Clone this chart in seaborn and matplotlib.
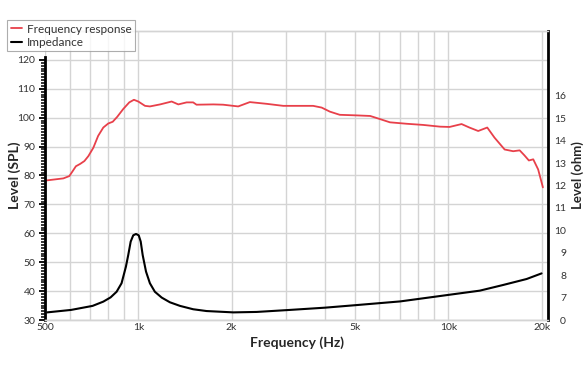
import numpy as np
import pandas as pd
import matplotlib
matplotlib.use("Agg")
import matplotlib.pyplot as plt
from matplotlib.ticker import FixedLocator, FixedFormatter, NullFormatter
from matplotlib.lines import Line2D
import seaborn as sns

# ---- data ----
spl_freq = [506, 573, 599, 614, 629, 649, 670, 690, 716, 742, 771, 800, 827, 855, 894,
            935, 968, 1000, 1051, 1090, 1176, 1281, 1346, 1432, 1503, 1541, 1747, 1878,
            2100, 2290, 2595, 2935, 3665, 3905, 4150, 4467, 5063, 5600, 6030, 6486, 7345,
            8300, 9410, 10100, 11040, 11700, 12490, 13360, 14100, 15200, 16200, 17000,
            17600, 18200, 18800, 19500, 20200]
spl_db = [78.3, 79.0, 79.8, 81.5, 83.2, 84.0, 85.0, 86.7, 89.6, 93.7, 96.6, 98.0, 98.6,
          100.3, 103.0, 105.3, 106.2, 105.6, 104.1, 103.9, 104.6, 105.6, 104.6, 105.3,
          105.3, 104.5, 104.6, 104.5, 103.9, 105.4, 104.8, 104.1, 104.1, 103.5, 102.1,
          101.0, 100.8, 100.6, 99.5, 98.4, 97.9, 97.5, 96.9, 96.8, 97.8, 96.6, 95.4, 96.6,
          93.1, 89.0, 88.4, 88.7, 87.0, 85.2, 85.6, 82.1, 75.9]

imp_freq = [508, 607, 712, 771, 814, 851, 883, 912, 928, 945, 963, 983, 1003, 1018, 1033,
            1059, 1090, 1131, 1190, 1265, 1363, 1503, 1660, 2025, 2410, 3085, 4000, 5000,
            7000, 10000, 12640, 15000, 17900, 20000]
imp_ohm = [6.34, 6.45, 6.63, 6.82, 7.01, 7.26, 7.64, 8.38, 8.90, 9.50, 9.78, 9.84, 9.78,
           9.50, 8.90, 8.16, 7.64, 7.26, 7.00, 6.79, 6.63, 6.48, 6.40, 6.34, 6.36, 6.45,
           6.55, 6.66, 6.83, 7.12, 7.31, 7.56, 7.83, 8.08]

x_ticks = [500, 1000, 2000, 5000, 10000, 20000]
x_labels = ["500", "1k", "2k", "5k", "10k", "20k"]
x_minor = [600, 700, 800, 900, 3000, 4000, 6000, 7000, 8000, 9000]
spl_ticks = [30, 40, 50, 60, 70, 80, 90, 100, 110, 120]
ohm_ticks = [6, 7, 8, 9, 10, 11, 12, 13, 14, 15, 16]
ohm_labels = ["0", "7", "8", "9", "10", "11", "12", "13", "14", "15", "16"]

spl_df = pd.DataFrame({"Frequency": spl_freq, "Level": spl_db})
imp_df = pd.DataFrame({"Frequency": imp_freq, "Ohm": imp_ohm})

sns.set_style("white")
plt.rcParams["font.family"] = ["Lato", "DejaVu Sans"]

RED = "#e8404a"
GRID = "#d4d4d4"
TXT = "#333333"

fig = plt.figure(figsize=(5.88, 3.72), dpi=100)
ax = fig.add_axes([45 / 588, 1 - 320 / 372, (548 - 45) / 588, (320 - 31) / 372])
ax2 = ax.twinx()

sns.lineplot(data=spl_df, x="Frequency", y="Level", ax=ax, color=RED, lw=1.3)
sns.lineplot(data=imp_df, x="Frequency", y="Ohm", ax=ax2, color="black", lw=1.5)

ax.set_xscale("log")
ax.set_xlim(500, 20980)
ax.set_ylim(30, 130)
ax2.set_ylim(6, 18.9)

ax.xaxis.set_major_locator(FixedLocator(x_ticks))
ax.xaxis.set_major_formatter(FixedFormatter(x_labels))
ax.xaxis.set_minor_locator(FixedLocator(x_minor))
ax.xaxis.set_minor_formatter(NullFormatter())
ax.yaxis.set_major_locator(FixedLocator(spl_ticks))
ax.yaxis.set_minor_locator(FixedLocator(list(range(30, 121))))

ax.grid(True, which="both", axis="x", color=GRID, lw=1.0)
ax.grid(True, which="major", axis="y", color=GRID, lw=1.0)
ax.set_axisbelow(True)
ax2.grid(False)

ax.tick_params(axis="x", which="both", length=0, labelsize=7.5, labelcolor=TXT, pad=2)
ax.tick_params(axis="y", which="major", length=4, width=1.3, color="black",
               labelsize=7.5, labelcolor=TXT, pad=3, direction="out")
ax.tick_params(axis="y", which="minor", length=3, width=1.1, color="black", direction="out")

ax2.yaxis.set_major_locator(FixedLocator(ohm_ticks))
ax2.yaxis.set_major_formatter(FixedFormatter(ohm_labels))
ax2.tick_params(axis="y", length=0, labelsize=7.5, labelcolor=TXT, pad=13)
for lbl in ax2.get_yticklabels():
    lbl.set_horizontalalignment("right")

for a in (ax, ax2):
    a.spines["top"].set_color(GRID)
    a.spines["bottom"].set_color(GRID)
    a.spines["top"].set_linewidth(1.0)
    a.spines["bottom"].set_linewidth(1.0)
ax.spines["left"].set_color("black")
ax.spines["left"].set_linewidth(2.0)
ax.spines["left"].set_bounds(30, 121)
ax.spines["right"].set_visible(False)
ax2.spines["left"].set_visible(False)
ax2.spines["right"].set_color("black")
ax2.spines["right"].set_linewidth(2.0)

ax.set_xlabel("Frequency (Hz)", fontsize=10, fontweight="bold", labelpad=3)
ax.set_ylabel("Level (SPL)", fontsize=10, fontweight="bold")
ax2.set_ylabel("Level (ohm)", fontsize=9.5, fontweight="bold")
ax.yaxis.set_label_coords((21 - 45) / 503, 0.5)
ax2.yaxis.set_label_coords((571 - 45) / 503, 0.5)

handles = [Line2D([0], [0], color=RED, lw=1.3), Line2D([0], [0], color="black", lw=1.5)]
leg = fig.legend(handles, ["Frequency response", "Impedance"], loc="upper left",
                 bbox_to_anchor=(7 / 588, 1 - 20 / 372), fontsize=8.5, frameon=True,
                 fancybox=False, edgecolor="#999999", handlelength=1.0, handletextpad=0.4,
                 borderpad=0.3, labelspacing=0.2, borderaxespad=0)
leg.get_frame().set_linewidth(0.8)
for t in leg.get_texts():
    t.set_color(TXT)

fig.savefig("out.png", dpi=100)
